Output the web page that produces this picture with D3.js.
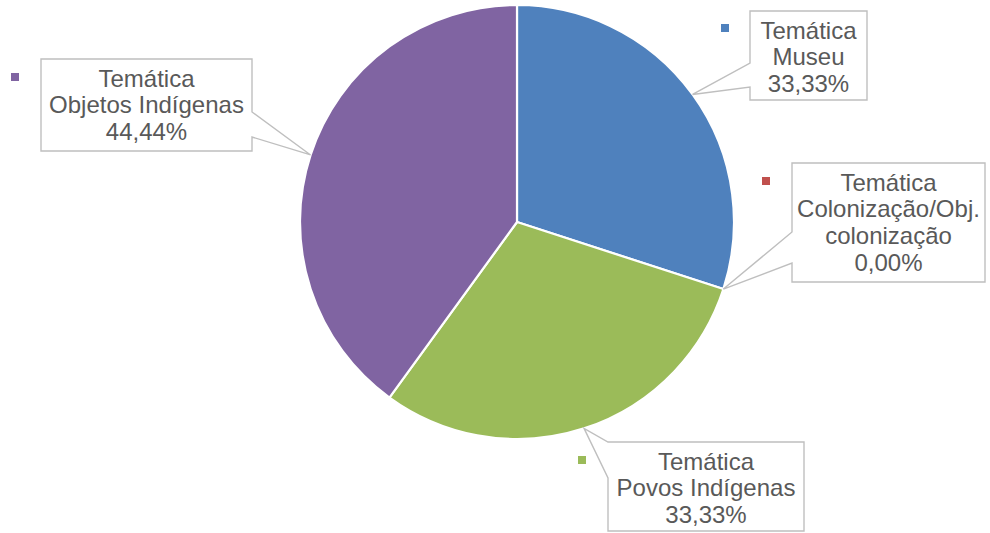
<!DOCTYPE html>
<html>
<head>
<meta charset="utf-8">
<script src="https://cdn.jsdelivr.net/npm/d3@7/dist/d3.min.js"></script>
<style>
  html, body { margin: 0; padding: 0; background: #ffffff; }
  svg { display: block; }
</style>
</head>
<body>
<svg id="chart" width="990" height="533"></svg>
<script>
// ---- data ----
const categories = ["Temática Museu", "Temática Colonização/Obj. colonização", "Temática Povos Indígenas", "Temática Objetos Indígenas"];
const labelLines = [["Temática", "Museu"], ["Temática", "Colonização/Obj.", "colonização"], ["Temática", "Povos Indígenas"], ["Temática", "Objetos Indígenas"]];
const values = [3, 0, 3, 4];
const percentLabels = ["33,33%", "0,00%", "33,33%", "44,44%"];
const colors = ["#4F81BD", "#C0504D", "#9BBB59", "#8064A2"];

// ---- layout (positions only) ----
const cx = 517, cy = 222, radius = 217;
const boxes = [
  { x0: 750, y0: 11,  x1: 867, y1: 100, side: "left",  a: 63,  b: 87,  mx: 721, my: 24 },
  { x0: 792, y0: 163, x1: 985, y1: 282, side: "left",  a: 232, b: 263, mx: 762, my: 177 },
  { x0: 608, y0: 442, x1: 804, y1: 531, side: "left",  a: 442, b: 478, mx: 578, my: 456 },
  { x0: 41,  y0: 59,  x1: 252, y1: 151, side: "right", a: 112, b: 137, mx: 11,  my: 73 }
];

const svg = d3.select("#chart");
const g = svg.append("g").attr("transform", `translate(${cx},${cy})`);

const pie = d3.pie().value(d => d).sort(null);
const arcs = pie(values);
const arc = d3.arc().innerRadius(0).outerRadius(radius);
const edgeArc = d3.arc().innerRadius(radius).outerRadius(radius);

g.selectAll("path.slice")
  .data(arcs)
  .enter().append("path")
  .attr("class", "slice")
  .attr("d", arc)
  .attr("fill", (d, i) => colors[i])
  .attr("stroke", d => d.value > 0 ? "#ffffff" : "none")
  .attr("stroke-width", 2.2)
  .attr("stroke-linejoin", "round");

// ---- callouts ----
function calloutPath(b, tip) {
  const [tx, ty] = tip;
  const p = [];
  p.push([b.x0, b.y0], [b.x1, b.y0]);
  if (b.side === "right") {
    p.push([b.x1, b.a], [tx, ty], [b.x1, b.b]);
  }
  p.push([b.x1, b.y1], [b.x0, b.y1]);
  if (b.side === "left") {
    p.push([b.x0, b.b], [tx, ty], [b.x0, b.a]);
  }
  return "M" + p.map(q => q.join(",")).join("L") + "Z";
}

const callouts = svg.append("g");
arcs.forEach((d, i) => {
  const b = boxes[i];
  const c = edgeArc.centroid(d);
  const tip = [cx + c[0], cy + c[1]];
  callouts.append("path")
    .attr("d", calloutPath(b, tip))
    .attr("fill", "#ffffff")
    .attr("stroke", "#BFBFBF")
    .attr("stroke-width", 1.4)
    .attr("stroke-linejoin", "miter");

  callouts.append("rect")
    .attr("x", b.mx).attr("y", b.my)
    .attr("width", 8).attr("height", 8)
    .attr("fill", colors[i]);

  const lines = labelLines[i].concat([percentLabels[i]]);
  const t = callouts.append("text")
    .attr("font-family", "'Liberation Sans', Arial, sans-serif")
    .attr("font-size", 24)
    .attr("fill", "#595959")
    .attr("text-anchor", "middle");
  lines.forEach((ln, k) => {
    t.append("tspan")
      .attr("x", (b.x0 + b.x1) / 2)
      .attr("y", b.y0 + 27.5 + k * 26.8)
      .text(ln);
  });
});
</script>
</body>
</html>
